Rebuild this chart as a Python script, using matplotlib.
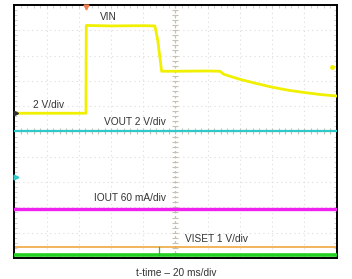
import matplotlib

matplotlib.use("Agg")
import matplotlib.pyplot as plt
import numpy as np

# scope screen: 10 x 10 divisions, values in divisions from bottom / left
VIN_T = [0.0, 2.22, 2.23, 3.0, 4.0, 4.36, 4.45, 4.57, 5.0, 6.0, 6.38, 6.5, 7.0, 7.5, 8.0, 8.5, 9.0, 9.5, 10.0]
VIN_V = [5.72, 5.72, 9.19, 9.17, 9.18, 9.17, 8.6, 7.38, 7.38, 7.39, 7.38, 7.26, 7.06, 6.9, 6.75, 6.63, 6.54, 6.46, 6.4]
VOUT_LEVEL = 5.0
IOUT_LEVEL = 1.93
VISET_LEVEL = 0.45
GREEN_LEVEL = 0.12
GLITCH_T = 4.49
GLITCH_TOP = 0.45
VIN_DOT = (9.86, 7.53)

LABELS = [
    ("VIN", 2.65, 9.51),
    ("2 V/div", 0.57, 6.04),
    ("VOUT 2 V/div", 2.78, 5.36),
    ("IOUT 60 mA/div", 2.47, 2.37),
    ("VISET 1 V/div", 5.3, 0.75),
]
XLABEL = "t-time \u2013 20 ms/div"

plt.rcParams["font.family"] = ["Liberation Sans", "DejaVu Sans"]

fig = plt.figure(figsize=(3.52, 2.79), dpi=100)
ax = fig.add_axes([0.041, 0.0753, 0.915, 0.907])
ax.set_xlim(0, 10)
ax.set_ylim(0, 10)

# grid
for k in range(1, 10):
    if k == 5:
        continue
    ax.axvline(k, color="#dcdcdc", lw=0.8, ls=(0, (1, 3)), zorder=1)
    ax.axhline(k, color="#dcdcdc", lw=0.8, ls=(0, (1, 3)), zorder=1)
ax.axvline(5, color="#c8c0b0", lw=0.9, ls=(0, (2, 2)), zorder=1)
ax.axhline(5, color="#c8c0b0", lw=0.9, ls=(0, (2, 2)), zorder=1)
minor = np.arange(0, 10.01, 0.2)
ax.plot(np.full_like(minor, 5), minor, ls="none", marker="_", ms=4, mew=0.8, color="#c8c0b0", zorder=1)
ax.plot(minor, np.full_like(minor, 5), ls="none", marker="|", ms=4, mew=0.8, color="#c8c0b0", zorder=1)

# traces
ax.axhline(VISET_LEVEL, color="#f0a030", lw=1.1, zorder=2)
ax.plot([0, 10], [GREEN_LEVEL, GREEN_LEVEL], color="#22d022", lw=2.6, zorder=3)
ax.plot([GLITCH_T, GLITCH_T], [GREEN_LEVEL, GLITCH_TOP], color="#22c022", lw=0.9, zorder=3)
ax.plot([0, 10], [IOUT_LEVEL, IOUT_LEVEL], color="#f020f0", lw=2.4, zorder=3)
ax.plot([0, 10], [VOUT_LEVEL, VOUT_LEVEL], color="#30c8c8", lw=1.6, zorder=3)
ax.plot(VIN_T, VIN_V, color="#f0f000", lw=2.0, zorder=4)
ax.plot([VIN_DOT[0]], [VIN_DOT[1]], "o", ms=2.5, color="#f0f000", zorder=4)

# channel / trigger markers
ax.plot([0.05], [3.2], marker=">", ms=3.5, color="#30c8c8", clip_on=False, zorder=5)
ax.plot([0.05], [VIN_V[0]], marker=">", ms=3, color="#303030", clip_on=False, zorder=5)
ax.plot([VIN_T[1]], [9.93], marker="v", ms=3.5, color="#f08050", clip_on=False, zorder=5)

for text, x, y in LABELS:
    ax.text(x, y, text, fontsize=7.3, color="#333333", va="center", zorder=6)

ax.set_xticks(np.arange(0, 10.01, 1), labels=[])
ax.set_yticks(np.arange(0, 10.01, 1), labels=[])
ax.set_xticks(minor, minor=True)
ax.set_yticks(minor, minor=True)
ax.tick_params(which="both", direction="in", top=True, right=True, length=2.5,
               color="#c8c8c8", width=0.6)
for s in ax.spines.values():
    s.set_linewidth(1.4)
    s.set_color("black")

fig.text(0.5, 0.02, XLABEL, ha="center", va="center", fontsize=7.3, color="#333333")

fig.savefig("out.png", dpi=100)
